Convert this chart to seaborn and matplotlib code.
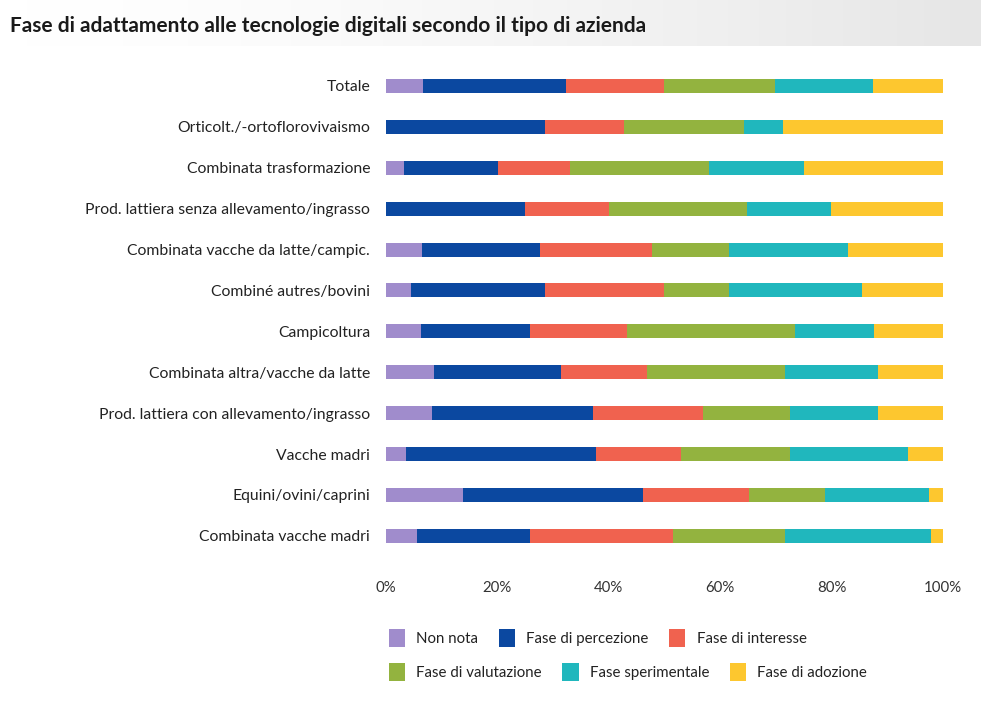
import numpy as np
import pandas as pd
import matplotlib
matplotlib.use("Agg")
import matplotlib.pyplot as plt
from matplotlib.patches import Patch
import seaborn as sns

# Farm types, top to bottom
categories = [
    "Totale",
    "Orticolt./-ortoflorovivaismo",
    "Combinata trasformazione",
    "Prod. lattiera senza allevamento/ingrasso",
    "Combinata vacche da latte/campic.",
    "Combiné autres/bovini",
    "Campicoltura",
    "Combinata altra/vacche da latte",
    "Prod. lattiera con allevamento/ingrasso",
    "Vacche madri",
    "Equini/ovini/caprini",
    "Combinata vacche madri",
]

# Share (%) of farms in each adoption phase
non_nota     = [6.6, 0.0, 3.2, 0.0, 6.4, 4.5, 6.3, 8.7, 8.3, 3.6, 13.8, 5.5]
percezione   = [25.7, 28.5, 16.9, 24.9, 21.2, 24.0, 19.5, 22.7, 28.9, 34.1, 32.3, 20.3]
interesse    = [17.6, 14.2, 13.0, 15.2, 20.2, 21.4, 17.4, 15.5, 19.7, 15.2, 19.1, 25.7]
valutazione  = [19.9, 21.6, 24.8, 24.8, 13.7, 11.6, 30.2, 24.8, 15.7, 19.7, 13.7, 20.2]
sperimentale = [17.6, 7.0, 17.2, 15.0, 21.4, 23.9, 14.2, 16.7, 15.8, 21.1, 18.6, 26.1]
adozione     = [12.6, 28.7, 24.9, 20.1, 17.1, 14.6, 12.4, 11.6, 11.6, 6.3, 2.5, 2.2]

phases = ["Non nota", "Fase di percezione", "Fase di interesse",
          "Fase di valutazione", "Fase sperimentale", "Fase di adozione"]
colors = ["#a08ccc", "#0b48a0", "#f0624f", "#93b33f", "#20b7bd", "#fdc72f"]
ticks = [0, 20, 40, 60, 80, 100]
tick_labels = ["0%", "20%", "40%", "60%", "80%", "100%"]

df = pd.DataFrame(
    {p: v for p, v in zip(phases, [non_nota, percezione, interesse,
                                   valutazione, sperimentale, adozione])},
    index=categories,
)
cum = df.cumsum(axis=1)

sns.set_theme(style="white")
plt.rcParams["font.family"] = ["Lato", "DejaVu Sans"]

fig = plt.figure(figsize=(9.81, 7.2), dpi=100)
fig.patch.set_facecolor("white")

# soft grey header band behind the title
band = fig.add_axes([0, 1 - 46 / 720, 1, 46 / 720])
grad = np.linspace(0, 1, 256).reshape(1, -1) ** 1.5
band.imshow(grad, aspect="auto", cmap=matplotlib.colors.LinearSegmentedColormap.from_list(
    "band", ["#ffffff", "#e6e6e6"]), extent=[0, 1, 0, 1])
band.axis("off")

ax = fig.add_axes([386 / 981, 1 - 556.3 / 720, (943 - 386) / 981, (556.3 - 65.5) / 720])
ax.set_facecolor("white")

# stacked bars: draw cumulative totals from the last phase back to the first
for phase, color in reversed(list(zip(phases, colors))):
    sns.barplot(x=cum[phase].values, y=categories, orient="h", color=color,
                width=0.34, ax=ax, saturation=1, linewidth=0, errorbar=None)

ax.set_xlim(0, 100)
ax.set_ylim(11.5, -0.5)
ax.set_xticks(ticks)
ax.set_xticklabels(tick_labels)
ax.set_xlabel("")
ax.set_ylabel("")
for s in ax.spines.values():
    s.set_visible(False)
ax.tick_params(axis="x", length=0, pad=18, labelsize=10.8, colors="#333333")
ax.tick_params(axis="y", length=0, pad=11.5, labelsize=11.3, colors="#222222")

fig.text(10 / 981, 1 - 26 / 720, "Fase di adattamento alle tecnologie digitali secondo il tipo di azienda",
         fontsize=15, fontweight="bold", color="#1a1a1a", va="center", ha="left")

# legend in two flowing rows
handles = [Patch(facecolor=c, edgecolor="none") for c in colors]
leg_kw = dict(frameon=False, handlelength=1.1, handleheight=1.4, handletextpad=0.75,
              columnspacing=1.35, fontsize=10.8, loc="center left")
leg1 = fig.legend(handles[:3], phases[:3], ncol=3,
                  bbox_to_anchor=(375 / 981, 1 - 638 / 720), **leg_kw)
leg2 = fig.legend(handles[3:], phases[3:], ncol=3,
                  bbox_to_anchor=(375 / 981, 1 - 672 / 720), **leg_kw)
for leg in (leg1, leg2):
    for t in leg.get_texts():
        t.set_color("#222222")

fig.savefig("out.png", dpi=100, facecolor="white")
